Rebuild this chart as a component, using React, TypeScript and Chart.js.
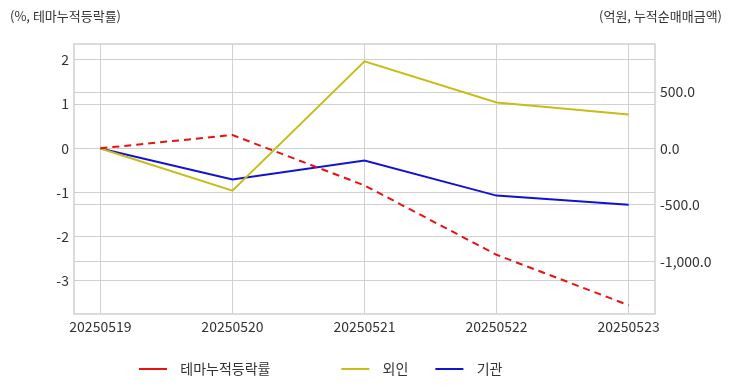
import React, { useEffect, useRef } from "react";
import { Chart, registerables } from "chart.js";

Chart.register(...registerables);

const categories = ["20250519", "20250520", "20250521", "20250522", "20250523"];
const themeRate = [0, 0.3, -0.84, -2.41, -3.55];
const foreign = [0, -373, 772, 408, 302];
const institution = [0, -275, -106, -417, -497];
const seriesNames = ["테마누적등락률", "외인", "기관"];
const leftTitle = "(%, 테마누적등락률)";
const rightTitle = "(억원, 누적순매매금액)";

const FONT = "'Noto Sans CJK KR', 'Noto Sans', sans-serif";
const LEGEND_PAD = 27;

const framePlugin = {
  id: "frame",
  afterLayout(chart: any) {
    if (chart.legend) {
      const w = chart.legend.right - chart.legend.left;
      chart.legend.left = 139 - LEGEND_PAD;
      chart.legend.right = chart.legend.left + w;
    }
  },
  afterDraw(chart: any) {
    const { ctx, chartArea } = chart;
    ctx.save();
    ctx.strokeStyle = "#d0d0d0";
    ctx.lineWidth = 1.5;
    ctx.strokeRect(chartArea.left, chartArea.top, chartArea.right - chartArea.left, chartArea.bottom - chartArea.top);
    ctx.fillStyle = "#333";
    ctx.font = `13px ${FONT}`;
    ctx.textBaseline = "middle";
    ctx.textAlign = "left";
    ctx.fillText(leftTitle, 10, 16);
    ctx.textAlign = "right";
    ctx.fillText(rightTitle, 722, 16);
    ctx.restore();
  },
};

export default function App() {
  const ref = useRef<HTMLCanvasElement>(null);
  useEffect(() => {
    document.body.style.margin = "0";
    const pts = (arr: number[]) => arr.map((v, i) => ({ x: i, y: v }));
    const chart = new Chart(ref.current!, {
      type: "line",
      data: {
        datasets: [
          {
            label: "  " + seriesNames[0] + "              ",
            data: pts(themeRate),
            yAxisID: "y",
            borderColor: "rgb(232,18,18)",
            backgroundColor: "rgb(232,18,18)",
            borderDash: [7, 5],
            borderWidth: 2,
            pointRadius: 0,
            tension: 0,
          },
          {
            label: "  " + seriesNames[1],
            data: pts(foreign),
            yAxisID: "y1",
            borderColor: "rgb(200,188,22)",
            backgroundColor: "rgb(200,188,22)",
            borderWidth: 2,
            pointRadius: 0,
            tension: 0,
          },
          {
            label: "  " + seriesNames[2],
            data: pts(institution),
            yAxisID: "y1",
            borderColor: "rgb(18,18,210)",
            backgroundColor: "rgb(18,18,210)",
            borderWidth: 2,
            pointRadius: 0,
            tension: 0,
          },
        ],
      },
      options: {
        animation: false,
        responsive: false,
        maintainAspectRatio: false,
        layout: { padding: { top: 44, left: 0, right: 0, bottom: 6 } },
        plugins: {
          tooltip: { enabled: false },
          legend: {
            position: "bottom",
            align: "start",
            labels: {
              usePointStyle: true,
              pointStyle: "line",
              pointStyleWidth: 28,
              boxHeight: 14,
              padding: LEGEND_PAD,
              color: "#333",
              font: { family: FONT, size: 14 },
            },
          },
        },
        scales: {
          x: {
            type: "linear",
            min: -0.2,
            max: 4.2,
            afterBuildTicks: (s: any) => {
              s.ticks = categories.map((_, i) => ({ value: i }));
            },
            afterFit: (s: any) => {
              s.height = 21;
            },
            ticks: {
              callback: (v: any) => categories[v] ?? "",
              color: "#333",
              font: { family: FONT, size: 14 },
              maxRotation: 0,
              autoSkip: false,
              padding: 4,
            },
            grid: { color: "#d0d0d0", drawTicks: false },
            border: { display: false },
          },
          y: {
            type: "linear",
            position: "left",
            min: -3.75,
            max: 2.36,
            afterBuildTicks: (s: any) => {
              s.ticks = [-3, -2, -1, 0, 1, 2].map((v) => ({ value: v }));
            },
            afterFit: (s: any) => {
              s.width = 74;
            },
            ticks: {
              callback: (v: any) => String(v),
              color: "#333",
              font: { family: FONT, size: 14 },
              padding: 5,
            },
            grid: { color: "#d0d0d0", drawTicks: false },
            border: { display: false },
          },
          y1: {
            type: "linear",
            position: "right",
            min: -1465,
            max: 925,
            afterBuildTicks: (s: any) => {
              s.ticks = [-1000, -500, 0, 500].map((v) => ({ value: v }));
            },
            afterFit: (s: any) => {
              s.width = 77;
            },
            ticks: {
              callback: (v: any) =>
                Number(v).toLocaleString("en-US", { minimumFractionDigits: 1, maximumFractionDigits: 1 }),
              color: "#333",
              font: { family: FONT, size: 14 },
              padding: 5,
            },
            grid: { color: "#d0d0d0", drawTicks: false },
            border: { display: false },
          },
        },
      },
      plugins: [framePlugin],
    } as any);
    return () => chart.destroy();
  }, []);
  return (
    <div style={{ width: 732, height: 392, background: "#fff" }}>
      <canvas ref={ref} width={732} height={392} style={{ display: "block" }} />
    </div>
  );
}
